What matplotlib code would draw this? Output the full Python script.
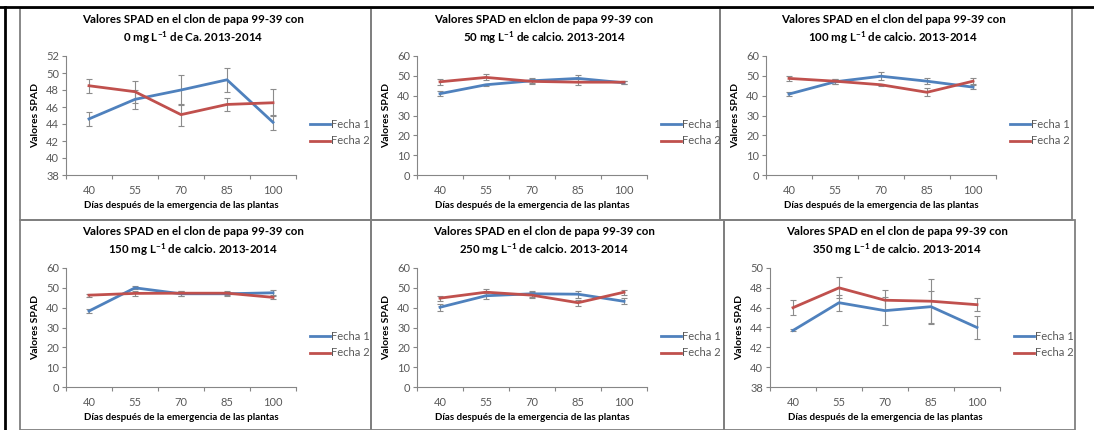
import matplotlib
matplotlib.use("Agg")
import matplotlib.pyplot as plt
from matplotlib.patches import Rectangle
from matplotlib.lines import Line2D
import numpy as np

plt.rcParams['font.family'] = ['Lato', 'DejaVu Sans']
plt.rcParams['mathtext.fontset'] = 'custom'
plt.rcParams['mathtext.rm'] = 'Lato:bold'
plt.rcParams['mathtext.default'] = 'rm'

dias = ['40', '55', '70', '85', '100']

titles = [
    "Valores SPAD en el clon de papa 99-39 con\n0 mg L$^{-1}$ de Ca. 2013-2014",
    "Valores SPAD en elclon de papa 99-39 con\n50 mg L$^{-1}$ de calcio. 2013-2014",
    "Valores SPAD en el clon del papa 99-39 con\n100 mg L$^{-1}$ de calcio. 2013-2014",
    "Valores SPAD en el clon de papa 99-39 con\n150 mg L$^{-1}$ de calcio. 2013-2014",
    "Valores SPAD en el clon de papa 99-39 con\n250 mg L$^{-1}$ de calcio. 2013-2014",
    "Valores SPAD en el clon de papa 99-39 con\n350 mg L$^{-1}$ de calcio. 2013-2014",
]

# Fecha 1 / Fecha 2 means and error bars, one list per panel
fecha1 = [
    [44.6, 46.9, 48.0, 49.2, 44.2],
    [41.0, 45.5, 47.5, 48.7, 46.5],
    [40.8, 47.0, 49.8, 47.3, 44.3],
    [38.3, 50.0, 47.0, 47.0, 47.5],
    [40.2, 46.0, 47.0, 46.8, 43.2],
    [43.7, 46.5, 45.7, 46.1, 44.0],
]
err1 = [
    [0.8, 1.1, 1.8, 1.4, 0.9],
    [1.2, 0.6, 1.2, 1.8, 0.8],
    [0.8, 1.2, 2.0, 1.5, 1.0],
    [0.8, 0.8, 1.2, 1.0, 1.2],
    [1.8, 1.5, 1.5, 1.8, 1.5],
    [0.1, 0.8, 1.4, 1.6, 1.2],
]
fecha2 = [
    [48.5, 47.8, 45.1, 46.3, 46.5],
    [47.0, 49.2, 47.2, 46.8, 46.8],
    [48.7, 47.3, 45.5, 41.7, 47.3],
    [46.3, 47.2, 47.3, 47.3, 45.2],
    [44.8, 47.8, 46.3, 42.5, 47.8],
    [46.0, 48.0, 46.75, 46.65, 46.3],
]
err2 = [
    [0.85, 1.3, 1.3, 0.8, 1.6],
    [1.5, 1.5, 1.2, 1.5, 0.8],
    [1.2, 1.2, 0.5, 2.0, 1.5],
    [0.8, 1.2, 1.2, 1.0, 0.8],
    [1.2, 1.5, 1.5, 1.5, 1.2],
    [0.75, 1.05, 1.0, 2.25, 0.65],
]
ylims = [(38, 52), (0, 60), (0, 60), (0, 60), (0, 60), (38, 50)]
ysteps = [2, 10, 10, 10, 10, 2]

# panel boxes in pixels: left, top, width, height
panels = [
    (20, 8, 351, 212), (371, 8, 349, 212), (720, 8, 352, 212),
    (20, 220, 351, 210), (371, 220, 353, 210), (724, 220, 351, 210),
]

W, H = 1094, 430
fig = plt.figure(figsize=(W / 100, H / 100), dpi=100)
fig.patch.set_facecolor('white')

def fx(px):
    return px / W

def fy(py):
    return 1 - py / H

blue = '#4F81BD'
red = '#C0504D'
gray = '#868686'
txt = '#595959'

for i, (px, py, pw, ph) in enumerate(panels):
    fig.patches.append(Rectangle((fx(px), fy(py + ph)), pw / W, ph / H,
                                 transform=fig.transFigure, fill=False,
                                 edgecolor='#7f7f7f', lw=1.3))
    ax = fig.add_axes([fx(px + 46), fy(py + 167), 230 / W, 119 / H])
    x = np.arange(len(dias)) + 0.5
    ax.errorbar(x, fecha1[i], yerr=err1[i], color=blue, lw=2.0,
                ecolor='#8c8c8c', elinewidth=0.8, capsize=2, capthick=0.8)
    ax.errorbar(x, fecha2[i], yerr=err2[i], color=red, lw=2.0,
                ecolor='#8c8c8c', elinewidth=0.8, capsize=2, capthick=0.8)
    ax.set_xlim(0, len(dias))
    ax.set_ylim(*ylims[i])
    ax.set_yticks(np.arange(ylims[i][0], ylims[i][1] + 0.1, ysteps[i]))
    ax.set_xticks(np.arange(len(dias) + 1))
    ax.set_xticklabels([])
    ax.set_xticks(x, minor=True)
    ax.set_xticklabels(dias, minor=True)
    ax.tick_params(axis='x', which='minor', length=0, pad=7, labelsize=8, labelcolor=txt)
    ax.tick_params(axis='x', which='major', length=3, color=gray, direction='out')
    ax.tick_params(axis='y', length=3, color=gray, labelsize=8, labelcolor=txt, pad=2)
    for s in ['top', 'right']:
        ax.spines[s].set_visible(False)
    for s in ['left', 'bottom']:
        ax.spines[s].set_color(gray)
        ax.spines[s].set_linewidth(0.8)
    ax.set_ylabel('Valores SPAD', fontsize=7.5, fontweight='bold', labelpad=4)
    ax.set_xlabel('Días después de la emergencia de las plantas', fontsize=7,
                  fontweight='bold', labelpad=4)
    fig.text(fx(px + 173), fy(py + 22), titles[i], ha='center', va='center',
             fontsize=8.3, fontweight='bold', linespacing=1.3)
    # legend
    for k, (lab, col) in enumerate([('Fecha 1', blue), ('Fecha 2', red)]):
        yy = py + 116 + 17 * k
        fig.lines.append(Line2D([fx(px + 290), fx(px + 310)], [fy(yy), fy(yy)],
                                transform=fig.transFigure, color=col, lw=2.0))
        fig.text(fx(px + 311), fy(yy), lab, ha='left', va='center',
                 fontsize=8, color=txt)

# black frame lines
fig.lines.append(Line2D([0, 1], [fy(7), fy(7)], transform=fig.transFigure,
                        color='black', lw=2.0))
fig.lines.append(Line2D([fx(4.5), fx(4.5)], [0, fy(7)], transform=fig.transFigure,
                        color='black', lw=2.0))

fig.savefig('out.png', dpi=100)
